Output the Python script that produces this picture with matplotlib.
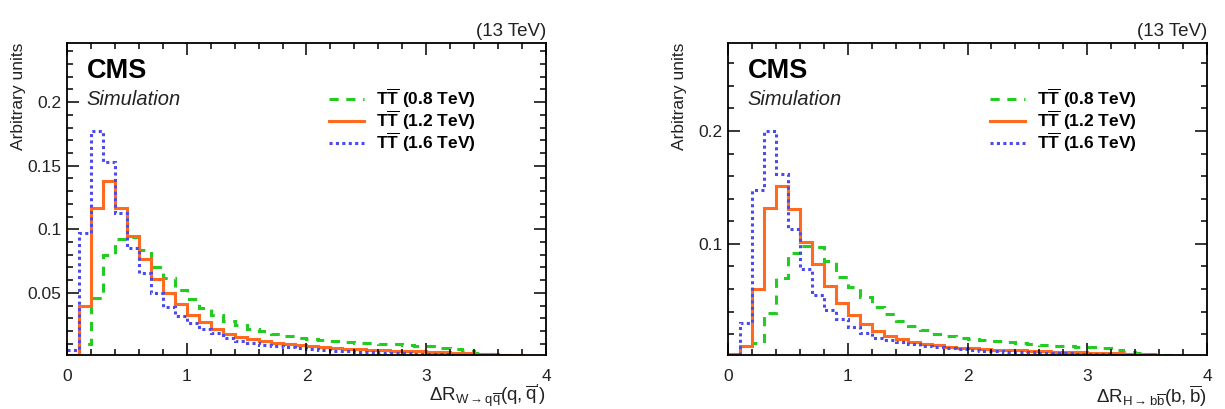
import matplotlib
matplotlib.use('Agg')

import matplotlib.pyplot as plt
from matplotlib.ticker import MultipleLocator, FixedLocator
import numpy as np

# fonts close to ROOT's Helvetica
plt.rcParams['font.family'] = ['Liberation Sans', 'DejaVu Sans']
plt.rcParams['mathtext.fontset'] = 'custom'
plt.rcParams['mathtext.rm'] = 'Liberation Sans'
plt.rcParams['mathtext.it'] = 'Liberation Sans'
plt.rcParams['mathtext.bf'] = 'Liberation Sans:bold'

# 40 bins of 0.1 from 0 to 4
edges = np.arange(41) / 10.0
labels = [r'$\mathbf{T\overline{T}}$ (0.8 TeV)',
          r'$\mathbf{T\overline{T}}$ (1.2 TeV)',
          r'$\mathbf{T\overline{T}}$ (1.6 TeV)']

# dR(q, qbar') from W -> qq
w_08 = [0, 0.010, 0.046, 0.080, 0.092, 0.094, 0.084, 0.070, 0.062, 0.052,
        0.045, 0.038, 0.033, 0.028, 0.025, 0.022, 0.020, 0.0175, 0.016, 0.0145,
        0.0135, 0.013, 0.0122, 0.0115, 0.011, 0.0105, 0.010, 0.0095, 0.009, 0.0085,
        0.008, 0.007, 0.006, 0.0045, 0.003, 0.002, 0.0012, 0.0008, 0.0005, 0.0003]
w_12 = [0.001, 0.040, 0.117, 0.138, 0.117, 0.095, 0.077, 0.061, 0.050, 0.041,
        0.033, 0.027, 0.022, 0.018, 0.015, 0.0135, 0.012, 0.0105, 0.0095, 0.0087,
        0.008, 0.0073, 0.0067, 0.0062, 0.0057, 0.0053, 0.005, 0.0046, 0.0043, 0.004,
        0.0037, 0.0033, 0.003, 0.0027, 0.0022, 0.0018, 0.0014, 0.001, 0.0008, 0.0006]
w_16 = [0.005, 0.097, 0.177, 0.153, 0.113, 0.085, 0.066, 0.050, 0.039, 0.032,
        0.0265, 0.0215, 0.0185, 0.0148, 0.012, 0.011, 0.0092, 0.0083, 0.0074, 0.0066,
        0.0058, 0.0052, 0.0046, 0.0041, 0.0037, 0.0034, 0.0031, 0.0028, 0.0025, 0.0023,
        0.002, 0.0018, 0.0016, 0.0014, 0.0012, 0.001, 0.0008, 0.0006, 0.0005, 0.0004]

# dR(b, bbar) from H -> bb
h_08 = [0, 0.001, 0.0117, 0.039, 0.0697, 0.092, 0.098, 0.097, 0.0844, 0.0708,
        0.0615, 0.0525, 0.044, 0.0375, 0.032, 0.0275, 0.0238, 0.0205, 0.0185, 0.017,
        0.0158, 0.0145, 0.0135, 0.0126, 0.0118, 0.011, 0.0104, 0.0098, 0.0093, 0.009,
        0.0086, 0.0075, 0.006, 0.0045, 0.003, 0.002, 0.0013, 0.0008, 0.0005, 0.0003]
h_12 = [0.002, 0.0097, 0.060, 0.132, 0.151, 0.131, 0.102, 0.082, 0.063, 0.048,
        0.037, 0.0287, 0.023, 0.0186, 0.0153, 0.0132, 0.011, 0.0102, 0.0088, 0.0079,
        0.0073, 0.0067, 0.0063, 0.0059, 0.0055, 0.0052, 0.0049, 0.0046, 0.0043, 0.004,
        0.0037, 0.0033, 0.0029, 0.0025, 0.002, 0.0015, 0.001, 0.0007, 0.0005, 0.0003]
h_16 = [0.001, 0.030, 0.148, 0.200, 0.162, 0.113, 0.078, 0.055, 0.041, 0.033,
        0.026, 0.021, 0.017, 0.0147, 0.0126, 0.011, 0.0097, 0.0083, 0.0074, 0.0067,
        0.006, 0.0054, 0.005, 0.0046, 0.0042, 0.0039, 0.0036, 0.0033, 0.003, 0.0027,
        0.0024, 0.0021, 0.0018, 0.0015, 0.0012, 0.001, 0.0008, 0.0006, 0.0005, 0.0004]

colors = ['#22cc22', '#ff6a1f', '#4a4aee']
styles = [(0, (3, 2.5)), '-', (0, (1, 1.1))]

fig = plt.figure(figsize=(12.25, 4.09), dpi=100)
ax1 = fig.add_axes([0.0547, 0.132, 0.391, 0.763])
ax2 = fig.add_axes([0.5943, 0.132, 0.391, 0.763])

panels = [
    (ax1, [w_08, w_12, w_16], (0.0012, 0.2465),
     [0.05, 0.1, 0.15, 0.2], ['0.05', '0.1', '0.15', '0.2'], 0.01,
     r"$\Delta R_{W\rightarrow q\overline{q}}(q,\overline{q}')$"),
    (ax2, [h_08, h_12, h_16], (0.0015, 0.278),
     [0.1, 0.2], ['0.1', '0.2'], 0.02,
     r'$\Delta R_{H\rightarrow b\overline{b}}(b,\overline{b})$'),
]

for ax, series, ylim, yt, ytl, yminor, xlab in panels:
    for vals, c, ls, lab in zip(series, colors, styles, labels):
        ax.stairs(vals, edges, baseline=None, color=c, linestyle=ls, lw=2.2, label=lab)
    ax.set_xlim(0, 4)
    ax.set_ylim(*ylim)
    ax.xaxis.set_major_locator(MultipleLocator(1))
    ax.xaxis.set_minor_locator(MultipleLocator(0.2))
    ax.yaxis.set_major_locator(FixedLocator(yt))
    ax.set_yticklabels(ytl)
    ax.yaxis.set_minor_locator(MultipleLocator(yminor))
    ax.tick_params(which='both', direction='in', top=True, right=True, width=1.1,
                   labelsize=12.5, labelcolor='#222222')
    ax.tick_params(which='major', length=8.5)
    ax.tick_params(which='minor', length=4.3)
    ax.tick_params(axis='x', pad=10)
    ax.tick_params(axis='y', pad=4)
    for s in ax.spines.values():
        s.set_linewidth(1.3)

    ax.set_ylabel('Arbitrary units', fontsize=12.5, loc='top', color='#222222')
    ax.yaxis.set_label_coords(-0.085, 1.0)
    ax.set_xlabel(xlab, fontsize=13.5, loc='right', color='#222222')
    ax.xaxis.set_label_coords(1.0, -0.09)
    ax.set_title('(13 TeV)', loc='right', fontsize=13.5, pad=5, color='#222222')

    ax.text(0.041, 0.888, 'CMS', transform=ax.transAxes, fontsize=19.5,
            fontweight='bold')
    ax.text(0.041, 0.80, 'Simulation', transform=ax.transAxes, fontsize=14.5,
            style='italic', color='#222222')
    ax.legend(loc='upper left', bbox_to_anchor=(0.515, 0.91), frameon=False,
              handlelength=2.0, handletextpad=0.7, labelspacing=-0.08,
              prop={'weight': 'bold', 'size': 12.5})

plt.savefig('out.png', dpi=100)
